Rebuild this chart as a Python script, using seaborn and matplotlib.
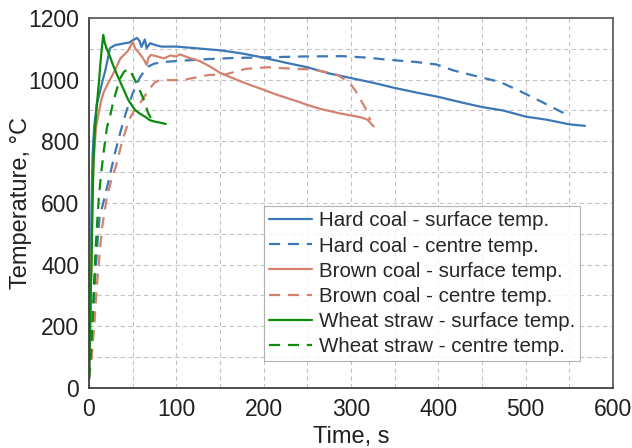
import numpy as np
import pandas as pd
import matplotlib
matplotlib.use("Agg")
import matplotlib.pyplot as plt
import seaborn as sns
from matplotlib.ticker import MultipleLocator

# ---- data ----
hard_surf_t = [0, 1, 2, 3, 4, 6, 9, 12.6, 15, 18.3, 21, 24, 30, 36, 41, 46, 51, 55, 58, 60, 62, 64, 66, 70, 76, 83,
               100, 121, 150, 175, 200, 225, 250, 275, 300, 325, 350, 375, 400, 428, 450, 474, 500, 524, 550, 568]
hard_surf_T = [30, 200, 400, 600, 750, 850, 920, 961, 990, 1025, 1060, 1102, 1112, 1115, 1118, 1120, 1129, 1135, 1125,
               1106, 1118, 1130, 1102, 1118, 1112, 1107, 1107, 1102, 1095, 1085, 1071, 1055, 1040, 1020, 1005, 990,
               973, 958, 944, 925, 911, 900, 880, 870, 855, 850]

hard_cent_t = [0, 2, 4, 6, 8, 10, 12, 18, 24, 30, 36, 42, 50, 58, 66, 75, 90, 110, 140, 165, 215, 245, 290, 320,
               340, 375, 398, 417, 445, 471, 494, 517, 541, 550]
hard_cent_T = [30, 100, 200, 300, 400, 480, 550, 620, 690, 765, 830, 890, 955, 1005, 1040, 1052, 1058, 1062, 1067,
               1070, 1073, 1075, 1076, 1071, 1065, 1057, 1049, 1030, 1010, 992, 962, 930, 895, 885]

brown_surf_t = [0, 1, 2, 3, 4, 5, 8, 11, 13.7, 17, 21, 25, 29, 33, 36, 40, 44, 47, 50, 53, 56, 59, 62, 66, 68, 71,
                78, 86, 93, 100, 104, 115, 127, 140, 150, 162, 173, 187, 200, 213, 227, 240, 250, 265, 288, 311,
                319, 326]
brown_surf_T = [30, 150, 300, 450, 600, 720, 845, 890, 929, 960, 983, 1005, 1026, 1050, 1069, 1080, 1091, 1105,
                1123, 1100, 1091, 1080, 1069, 1048, 1070, 1080, 1075, 1069, 1078, 1075, 1082, 1070, 1060, 1040,
                1022, 1008, 995, 980, 967, 953, 940, 928, 918, 905, 890, 878, 870, 848]

brown_cent_t = [0, 3, 6, 9, 12, 15, 20, 26, 31, 38, 46, 52, 60, 68, 75, 82, 95, 110, 124, 137, 155, 180, 205,
                234, 255, 270, 285, 298, 305, 312, 318, 322]
brown_cent_T = [30, 100, 200, 330, 430, 520, 610, 680, 720, 800, 870, 900, 930, 965, 990, 1000, 998, 1000, 1008,
                1015, 1016, 1035, 1040, 1035, 1033, 1025, 1015, 990, 965, 930, 900, 868]

straw_surf_t = [0, 1, 2, 3, 4, 5, 6, 7, 9, 11.5, 13, 15, 16.4, 18, 20, 24, 27.4, 33, 39, 45, 52.6, 58, 64, 70,
                75, 82, 88]
straw_surf_T = [30, 150, 300, 420, 600, 720, 800, 843, 920, 994, 1050, 1110, 1145, 1120, 1102, 1075, 1048, 1010,
                972, 934, 902, 890, 880, 868, 864, 860, 856]

straw_cent_t = [0, 2, 4, 6, 8, 9.7, 11.5, 14, 17, 20.6, 24, 28, 35, 40, 45, 48, 55, 62, 68, 72]
straw_cent_T = [30, 100, 220, 350, 470, 550, 625, 697, 770, 845, 880, 930, 1000, 1025, 1035, 1025, 985, 940,
                890, 870]

labels = ["Hard coal - surface temp.", "Hard coal - centre temp.",
          "Brown coal - surface temp.", "Brown coal - centre temp.",
          "Wheat straw - surface temp.", "Wheat straw - centre temp."]

series = [(hard_surf_t, hard_surf_T), (hard_cent_t, hard_cent_T),
          (brown_surf_t, brown_surf_T), (brown_cent_t, brown_cent_T),
          (straw_surf_t, straw_surf_T), (straw_cent_t, straw_cent_T)]

frames = []
for lab, (t, T) in zip(labels, series):
    frames.append(pd.DataFrame({"Time": t, "Temp": T, "series": lab}))
df = pd.concat(frames, ignore_index=True)

blue = "#3b78b5"
salmon = "#d4826f"
green = "#0c8c0c"
palette = dict(zip(labels, [blue, blue, salmon, salmon, green, green]))
dash = (5, 3.5)
dashes = dict(zip(labels, ["", dash, "", dash, "", dash]))

sns.set_style("white")
plt.rcParams["font.family"] = ["Liberation Sans", "DejaVu Sans"]

fig = plt.figure(figsize=(6.32, 4.48), dpi=100)
ax = fig.add_axes([0.1408, 0.134, 0.829, 0.826])

sns.lineplot(data=df, x="Time", y="Temp", hue="series", style="series",
             palette=palette, dashes=dashes, estimator=None, sort=False,
             units="series", linewidth=1.6, ax=ax, legend=True)

ax.set_xlim(0, 600)
ax.set_ylim(0, 1200)
ax.xaxis.set_major_locator(MultipleLocator(100))
ax.xaxis.set_minor_locator(MultipleLocator(50))
ax.yaxis.set_major_locator(MultipleLocator(200))
ax.yaxis.set_minor_locator(MultipleLocator(100))

ax.grid(True, which="both", linestyle=(0, (4, 3)), color="#c4c4c4", linewidth=0.8)
ax.set_axisbelow(True)

for s in ax.spines.values():
    s.set_color("#404040")
    s.set_linewidth(1.3)
for s in ["top", "right"]:
    ax.spines[s].set_color("#606060")

ax.tick_params(axis="x", which="major", direction="inout", length=7, width=1, labelsize=16.5, colors="#202020", pad=4)
ax.tick_params(axis="x", which="minor", direction="in", length=4, width=1)
ax.tick_params(axis="y", which="major", direction="out", length=5, width=1, labelsize=16.5, colors="#202020", pad=2)
ax.tick_params(axis="y", which="minor", direction="out", length=4, width=1)

ax.set_xlabel("Time, s", fontsize=17, color="#202020", labelpad=3)
ax.set_ylabel("Temperature, °C", fontsize=17, color="#202020", labelpad=-3)

handles, labs = ax.get_legend_handles_labels()
leg = ax.legend(handles, labs, loc="lower right", bbox_to_anchor=(0.937, 0.072),
                fontsize=14.8, frameon=True, fancybox=False, edgecolor="#a0a0a0",
                handlelength=2.1, handletextpad=0.3, labelspacing=0.3, borderpad=0.25,
                borderaxespad=0)
leg.get_frame().set_linewidth(0.8)

fig.savefig("out.png", dpi=100)
